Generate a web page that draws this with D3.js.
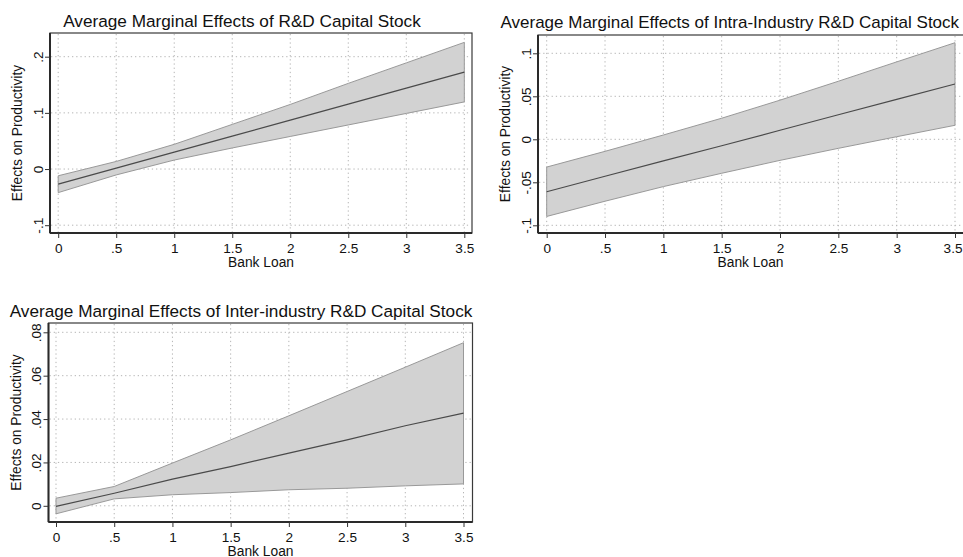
<!DOCTYPE html>
<html>
<head>
<meta charset="utf-8">
<script src="https://cdn.jsdelivr.net/npm/d3@7/dist/d3.min.js"></script>
<style>
  html, body { margin: 0; padding: 0; background: #ffffff; }
  svg { display: block; }
  text { font-family: "Liberation Sans", Arial, Helvetica, sans-serif; fill: #111; }
</style>
</head>
<body>
<svg id="chart" width="963" height="557"></svg>
<script>
// ---------------- DATA ----------------
const bankLoan = [0, 0.5, 1, 1.5, 2, 2.5, 3, 3.5];
const xTickValues = [0, 0.5, 1, 1.5, 2, 2.5, 3, 3.5];
const xTickLabels = ["0", ".5", "1", "1.5", "2", "2.5", "3", "3.5"];

// Panel 1: R&D Capital Stock
const rdMean  = [-0.027, 0.0015, 0.030, 0.0585, 0.087, 0.1155, 0.144, 0.1725];
const rdUpper = [-0.012, 0.0135, 0.044, 0.0795, 0.115, 0.1525, 0.189, 0.2255];
const rdLower = [-0.042, -0.0105, 0.016, 0.0375, 0.058, 0.0785, 0.099, 0.1195];
const rdYTicks = [-0.1, 0, 0.1, 0.2];
const rdYLabels = ["-.1", "0", ".1", ".2"];

// Panel 2: Intra-Industry R&D Capital Stock
const intraMean  = [-0.061, -0.043, -0.025, -0.0075, 0.0105, 0.0285, 0.0465, 0.0643];
const intraUpper = [-0.0323, -0.014, 0.005, 0.0245, 0.0455, 0.0675, 0.090, 0.1123];
const intraLower = [-0.0897, -0.072, -0.055, -0.0395, -0.0245, -0.0105, 0.003, 0.0163];
const intraYTicks = [-0.1, -0.05, 0, 0.05, 0.1];
const intraYLabels = ["-.1", "-.05", "0", ".05", ".1"];

// Panel 3: Inter-industry R&D Capital Stock
const interMean  = [-0.0003, 0.0058, 0.0123, 0.0181, 0.0243, 0.0304, 0.0369, 0.0427];
const interUpper = [0.0035, 0.0089, 0.0197, 0.0304, 0.0415, 0.0527, 0.0639, 0.0752];
const interLower = [-0.0037, 0.0032, 0.0051, 0.0061, 0.0074, 0.0081, 0.0092, 0.0101];
const interYTicks = [0, 0.02, 0.04, 0.06, 0.08];
const interYLabels = ["0", ".02", ".04", ".06", ".08"];

const titles = [
  "Average Marginal Effects of R&D Capital Stock",
  "Average Marginal Effects of Intra-Industry R&D Capital Stock",
  "Average Marginal Effects of Inter-industry R&D Capital Stock"
];
const xTitle = "Bank Loan";
const yTitle = "Effects on Productivity";

// ---------------- DRAWING ----------------
const W = 963;
const svg = d3.select("#chart");
svg.append("rect").attr("width", W).attr("height", 557).attr("fill", "#ffffff");

function panel(cfg) {
  const g = svg.append("g");
  const x = d3.scaleLinear().domain([0, 3.5]).range([cfg.x0, cfg.x35]);
  const y = d3.scaleLinear().domain([cfg.yLo, cfg.yHi]).range([cfg.pyLo, cfg.pyHi]);

  g.append("rect")
    .attr("x", cfg.left).attr("y", cfg.top)
    .attr("width", cfg.right - cfg.left).attr("height", cfg.bottom - cfg.top)
    .attr("fill", "#ffffff");

  // grid (dotted)
  const grid = g.append("g").attr("stroke", "#b5b5b5").attr("stroke-width", 1)
    .attr("stroke-dasharray", "1.3,2.9");
  xTickValues.forEach(v => {
    grid.append("line").attr("x1", x(v)).attr("x2", x(v))
      .attr("y1", cfg.top + 1).attr("y2", cfg.bottom - 1);
  });
  cfg.yTicks.forEach(v => {
    grid.append("line").attr("x1", cfg.left + 1).attr("x2", cfg.right - 1)
      .attr("y1", y(v)).attr("y2", y(v));
  });

  const pts = bankLoan.map((b, i) => ({ b, m: cfg.mean[i], lo: cfg.lower[i], hi: cfg.upper[i] }));

  // confidence band
  const area = d3.area().x(d => x(d.b)).y0(d => y(d.lo)).y1(d => y(d.hi));
  g.append("path").datum(pts).attr("d", area)
    .attr("fill", "#d2d2d2").attr("stroke", "#999999").attr("stroke-width", 1);

  // mean line
  const line = d3.line().x(d => x(d.b)).y(d => y(d.m));
  g.append("path").datum(pts).attr("d", line)
    .attr("fill", "none").attr("stroke", "#4a4a4a").attr("stroke-width", 1.2);

  // frame
  g.append("rect")
    .attr("x", cfg.left).attr("y", cfg.top)
    .attr("width", cfg.right - cfg.left).attr("height", cfg.bottom - cfg.top)
    .attr("fill", "none").attr("stroke", "#3a3a3a").attr("stroke-width", 1.2);

  // x axis
  const xAxis = d3.axisBottom(x).tickValues(xTickValues)
    .tickFormat((d, i) => xTickLabels[i]).tickSize(5).tickPadding(5).tickSizeOuter(0);
  const xa = g.append("g").attr("transform", `translate(0,${cfg.bottom})`).call(xAxis);
  xa.select(".domain").attr("d", `M${cfg.left},0H${cfg.right}`)
    .attr("stroke", "#2a2a2a").attr("stroke-width", 2);
  xa.selectAll(".tick line").attr("stroke", "#333").attr("stroke-width", 1);
  xa.selectAll(".tick text").attr("font-size", 13.6).attr("fill", "#111")
    .attr("font-family", "Liberation Sans, Arial, sans-serif")
    .each(function(d) {
      // keep labels inside the canvas
      const bb = this.getBBox();
      const over = x(d) + bb.width / 2 - (W - 1);
      if (over > 0) d3.select(this).attr("dx", -over);
    });

  // y axis
  const yAxis = d3.axisLeft(y).tickValues(cfg.yTicks)
    .tickFormat((d, i) => cfg.yLabels[i]).tickSize(5).tickPadding(3).tickSizeOuter(0);
  const ya = g.append("g").attr("transform", `translate(${cfg.left},0)`).call(yAxis);
  ya.select(".domain").attr("d", `M0,${cfg.top}V${cfg.bottom}`)
    .attr("stroke", "#2a2a2a").attr("stroke-width", 2);
  ya.selectAll(".tick line").attr("stroke", "#333").attr("stroke-width", 1);
  ya.selectAll(".tick text")
    .attr("font-size", 13.6).attr("fill", "#111")
    .attr("font-family", "Liberation Sans, Arial, sans-serif")
    .attr("text-anchor", "middle").attr("dy", null)
    .attr("x", null)
    .attr("transform", "translate(-7.5,0) rotate(-90)")
    .attr("y", 0);

  // titles
  g.append("text").attr("x", cfg.titleX).attr("y", cfg.titleY)
    .attr("text-anchor", cfg.titleAnchor).attr("font-size", cfg.titleSize).text(cfg.title);
  g.append("text").attr("x", (cfg.left + cfg.right0) / 2).attr("y", cfg.xTitleY)
    .attr("text-anchor", "middle").attr("font-size", 13.8).text(xTitle);
  g.append("text")
    .attr("transform", `translate(${cfg.left - 28},${(cfg.top + cfg.bottom) / 2}) rotate(-90)`)
    .attr("text-anchor", "middle").attr("font-size", 13.8).text(yTitle);
}

panel({
  title: titles[0], titleX: 242, titleY: 27, titleAnchor: "middle", titleSize: 17.2,
  left: 50, right: 472, right0: 472, top: 33, bottom: 233, xTitleY: 267,
  x0: 58.2, x35: 464.3,
  yLo: -0.1, yHi: 0.2, pyLo: 225.2, pyHi: 56.7,
  yTicks: rdYTicks, yLabels: rdYLabels,
  mean: rdMean, upper: rdUpper, lower: rdLower
});

panel({
  title: titles[1], titleX: 500.5, titleY: 28, titleAnchor: "start", titleSize: 17,
  left: 538, right: 975, right0: 963, top: 35, bottom: 233, xTitleY: 267,
  x0: 546.7, x35: 955,
  yLo: -0.1, yHi: 0.1, pyLo: 225.3, pyHi: 53.3,
  yTicks: intraYTicks, yLabels: intraYLabels,
  mean: intraMean, upper: intraUpper, lower: intraLower
});

panel({
  title: titles[2], titleX: 241, titleY: 316.5, titleAnchor: "middle", titleSize: 17.2,
  left: 48.5, right: 472.5, right0: 472.5, top: 323, bottom: 522, xTitleY: 555.5,
  x0: 56, x35: 463.5,
  yLo: 0, yHi: 0.08, pyLo: 505.8, pyHi: 332.3,
  yTicks: interYTicks, yLabels: interYLabels,
  mean: interMean, upper: interUpper, lower: interLower
});
</script>
</body>
</html>
